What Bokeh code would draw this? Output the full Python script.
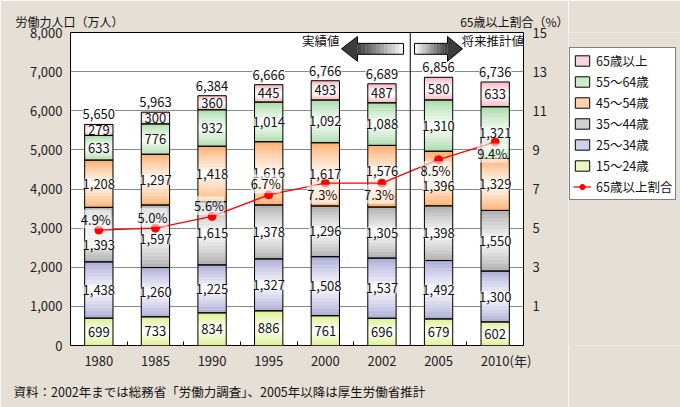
from bokeh.plotting import figure
from bokeh.layouts import row
from bokeh.models import (ColumnDataSource, Range1d, LinearAxis, FixedTicker, NumeralTickFormatter,
                          LabelSet, Label, Legend, LegendItem, Span, Title)
from bokeh.core.properties import value
from bokeh.embed import file_html
from bokeh.resources import INLINE

# ---------------- data ----------------
years = ["1980", "1985", "1990", "1995", "2000", "2002", "2005", "2010"]
group_names = ["15～24歳", "25～34歳", "35～44歳", "45～54歳", "55～64歳", "65歳以上"]
age_15_24 = [699, 733, 834, 886, 761, 696, 679, 602]
age_25_34 = [1438, 1260, 1225, 1327, 1508, 1537, 1492, 1300]
age_35_44 = [1393, 1597, 1615, 1378, 1296, 1305, 1398, 1550]
age_45_54 = [1208, 1297, 1418, 1616, 1617, 1576, 1396, 1329]
age_55_64 = [633, 776, 932, 1014, 1092, 1088, 1310, 1321]
age_65_over = [279, 300, 360, 445, 493, 487, 580, 633]
totals = [5650, 5963, 6384, 6666, 6766, 6689, 6856, 6736]
elderly_share = [4.9, 5.0, 5.6, 6.7, 7.3, 7.3, 8.5, 9.4]
left_ticks = [0, 1000, 2000, 3000, 4000, 5000, 6000, 7000, 8000]
right_ticks = [1, 3, 5, 7, 9, 11, 13, 15]
left_title = "労働力人口（万人）"
right_title = "65歳以上割合（%）"
share_name = "65歳以上割合"
year_unit = "(年)"
source_note = "資料：2002年までは総務省「労働力調査」、2005年以降は厚生労働省推計"

# ---------------- style ----------------
FONT = "Noto Sans CJK JP"
BG = "#E6DFD6"
colors = ["#DCEF88", "#A9A9D6", "#ABABAB", "#FFAD6A", "#A6DBA6", "#F4B3BF"]
series = [age_15_24, age_25_34, age_35_44, age_45_54, age_55_64, age_65_over]
seg_label_nudge = {(2, 0): -10, (2, 1): -3, (3, 5): 5, (3, 6): -7}
share_label_side = [1, 1, 1, 1, -1, -1, -1, -1]


def mix(c, f):
    r, g, b = int(c[1:3], 16), int(c[3:5], 16), int(c[5:7], 16)
    return "#%02x%02x%02x" % (round(r + (255 - r) * f), round(g + (255 - g) * f), round(b + (255 - b) * f))


p = figure(width=568, height=407, output_backend="svg", toolbar_location=None,
           x_range=Range1d(0, 8), y_range=Range1d(0, 8000),
           min_border_left=70, min_border_right=45, min_border_top=32, min_border_bottom=59)
p.background_fill_color = "white"
p.border_fill_color = BG
p.outline_line_color = "black"
p.outline_line_width = 1
p.extra_y_ranges = {"pct": Range1d(-1, 15)}

# both axis titles share the top line
p.title.text = left_title + "\u3000" * 28 + "\u2007" + right_title
p.title.align = "left"
p.title.offset = -55
p.title.standoff = 6
p.title.text_font = FONT
p.title.text_font_size = "12px"
p.title.text_font_style = "normal"
p.title.text_color = "#111111"

# axes
xa = p.xaxis[0]
xa.ticker = FixedTicker(ticks=[i + 0.5 for i in range(8)], minor_ticks=[1, 2, 3, 4, 5, 7])
overrides = {i + 0.5: y for i, y in enumerate(years)}
overrides[7.5] = "\u2007\u2007\u2007" + years[-1] + year_unit
xa.major_label_overrides = overrides
xa.major_tick_in = 0
xa.major_tick_out = 0
xa.minor_tick_in = 4
xa.minor_tick_out = 0
xa.minor_tick_line_color = "black"
xa.axis_line_color = None
xa.major_label_standoff = 5

ya = p.yaxis[0]
ya.ticker = FixedTicker(ticks=left_ticks)
ya.formatter = NumeralTickFormatter(format="0,0")
ya.major_tick_in = 0
ya.major_tick_out = 0
ya.minor_tick_line_color = None
ya.axis_line_color = None
ya.major_label_standoff = 8

ra = LinearAxis(y_range_name="pct", ticker=FixedTicker(ticks=right_ticks))
ra.major_tick_in = 0
ra.major_tick_out = 0
ra.minor_tick_line_color = None
ra.axis_line_color = None
ra.major_label_standoff = 9
p.add_layout(ra, "right")

for ax in (xa, ya, ra):
    ax.major_label_text_font = FONT
    ax.major_label_text_font_size = "13px"
    ax.major_label_text_color = "#222222"

p.xgrid.grid_line_color = None
p.ygrid.grid_line_color = "#8a8a8a"
p.ygrid.grid_line_width = 1

p.add_layout(Title(text=source_note, align="left", offset=-57, standoff=14, text_font=FONT,
                   text_font_size="12.5px", text_font_style="normal", text_color="#111111"),
             "below")

# ---------------- stacked gradient bars ----------------
N = 16
bands = dict(left=[], right=[], bottom=[], top=[], color=[])
outl = dict(left=[], right=[], bottom=[], top=[])
seg_lab = dict(x=[], y=[], text=[], yoff=[])
bottoms = [0] * 8
for gi, (vals, col) in enumerate(zip(series, colors)):
    for i in range(8):
        b = bottoms[i]
        t = b + vals[i]
        xc = i + 0.5
        for k in range(N):
            pos = (k + 0.5) / N
            f = 0.93 * (1 - abs(2 * pos - 1)) ** 0.8
            bands["left"].append(xc - 0.25)
            bands["right"].append(xc + 0.25)
            bands["bottom"].append(b + (t - b) * k / N)
            bands["top"].append(b + (t - b) * (k + 1) / N)
            bands["color"].append(mix(col, f))
        outl["left"].append(xc - 0.25)
        outl["right"].append(xc + 0.25)
        outl["bottom"].append(b)
        outl["top"].append(t)
        seg_lab["x"].append(xc)
        seg_lab["y"].append((b + t) / 2)
        seg_lab["text"].append(f"{vals[i]:,}")
        seg_lab["yoff"].append(seg_label_nudge.get((gi, i), 0))
        bottoms[i] = t

p.quad(left="left", right="right", bottom="bottom", top="top", source=ColumnDataSource(bands),
       fill_color="color", line_color="color", line_width=0.6)
p.quad(left="left", right="right", bottom="bottom", top="top", source=ColumnDataSource(outl),
       fill_color=None, line_color="black", line_width=1)

p.add_layout(Span(location=6, dimension="height", line_color="black", line_width=1))

p.add_layout(LabelSet(x="x", y="y", text="text", y_offset="yoff", source=ColumnDataSource(seg_lab),
                      text_align="center", text_baseline="middle", text_font=value(FONT),
                      text_font_size="13px", text_color="#111111",
                      background_fill_color="white", background_fill_alpha=0.7))

tot_src = ColumnDataSource(dict(x=[i + 0.5 for i in range(8)], y=totals,
                                text=[f"{v:,}" for v in totals]))
p.add_layout(LabelSet(x="x", y="y", text="text", y_offset=5, source=tot_src,
                      text_align="center", text_baseline="bottom", text_font=value(FONT),
                      text_font_size="13px", text_color="#111111",
                      background_fill_color="white", background_fill_alpha=1.0))

sh_src = ColumnDataSource(dict(x=[i + 0.5 for i in range(8)], y=elderly_share,
                               text=[f"{v:.1f}%" for v in elderly_share],
                               yoff=[11 * s for s in share_label_side]))
line_r = p.line("x", "y", source=sh_src, y_range_name="pct", line_color="#FF0000", line_width=1.3)
pts_r = p.scatter("x", "y", source=sh_src, y_range_name="pct", size=8, fill_color="#FF0000",
                  line_color="#FF0000")
p.add_layout(LabelSet(x="x", y="y", text="text", y_offset="yoff", x_offset=-3, source=sh_src,
                      y_range_name="pct", text_align="center", text_baseline="middle",
                      text_font=value(FONT), text_font_size="13px", text_color="#111111",
                      background_fill_color="white", background_fill_alpha=0.6))


# ---------------- arrows (decoration, screen px -> data) ----------------
def dx(sx):
    return (sx - 70) / (453 / 8)


def dy(sy):
    return (348 - sy) * 8000 / 316


def arrow(tip, base, tail):
    ns = 12
    qd = dict(left=[], right=[], bottom=[], top=[], color=[])
    for k in range(ns):
        a = base + (tail - base) * k / ns
        b2 = base + (tail - base) * (k + 1) / ns
        g = round(60 + 190 * (k + 0.5) / ns)
        qd["left"].append(dx(min(a, b2)))
        qd["right"].append(dx(max(a, b2)))
        qd["bottom"].append(dy(54))
        qd["top"].append(dy(43))
        qd["color"].append("#%02x%02x%02x" % (g, g, g))
    p.quad(left="left", right="right", bottom="bottom", top="top", source=ColumnDataSource(qd),
           fill_color="color", line_color="color", line_width=0.5)
    p.patch([dx(tip), dx(base), dx(base)], [dy(48.5), dy(36), dy(61)], fill_color="#3c3c3c",
            line_color=None)
    xs = [tip, base, base, tail, tail, base, base]
    ys = [48.5, 36, 43, 43, 54, 54, 61]
    p.patch([dx(v) for v in xs], [dy(v) for v in ys], fill_color=None, line_color="black",
            line_width=1)


arrow(341, 357, 403)
arrow(462, 447, 414)

p.add_layout(Label(text="実績値", x=339 - 70, y=348 - 43, x_units="screen", y_units="screen",
                   text_align="right", text_baseline="middle", text_font=FONT,
                   text_font_size="12.5px", text_color="#111111"))
p.add_layout(Label(text="将来推計値", x=461 - 70, y=348 - 43, x_units="screen", y_units="screen",
                   text_align="left", text_baseline="middle", text_font=FONT,
                   text_font_size="12.5px", text_color="#111111"))

# ---------------- legend (in a companion panel on the right) ----------------
q = figure(width=112, height=407, output_backend="svg", toolbar_location=None,
           x_axis_type=None, y_axis_type=None, x_range=Range1d(0, 1), y_range=Range1d(0, 1),
           min_border=0)
q.background_fill_color = BG
q.border_fill_color = BG
q.outline_line_color = None

items = []
for name, col in reversed(list(zip(group_names, colors))):
    r = q.quad(left=[5], right=[6], top=[6], bottom=[5], fill_color=mix(col, 0.45),
               line_color="black")
    items.append(LegendItem(label=name, renderers=[r]))
lr = q.line([5, 6], [5, 6], line_color="#FF0000", line_width=1.3)
pr = q.scatter([5], [5], size=8, fill_color="#FF0000", line_color="#FF0000")
items.append(LegendItem(label=share_name, renderers=[lr, pr]))
leg = Legend(items=items, location=(1, 145), background_fill_color="white",
             background_fill_alpha=1.0, border_line_color="black", border_line_width=1,
             label_text_font=FONT, label_text_font_size="12.5px", label_text_color="#111111",
             glyph_width=18, glyph_height=13, label_height=14, spacing=2, padding=3, margin=0,
             label_standoff=5)
q.add_layout(leg)

layout = row(p, q, spacing=0)
open("out.html", "w").write(file_html(layout, INLINE))
